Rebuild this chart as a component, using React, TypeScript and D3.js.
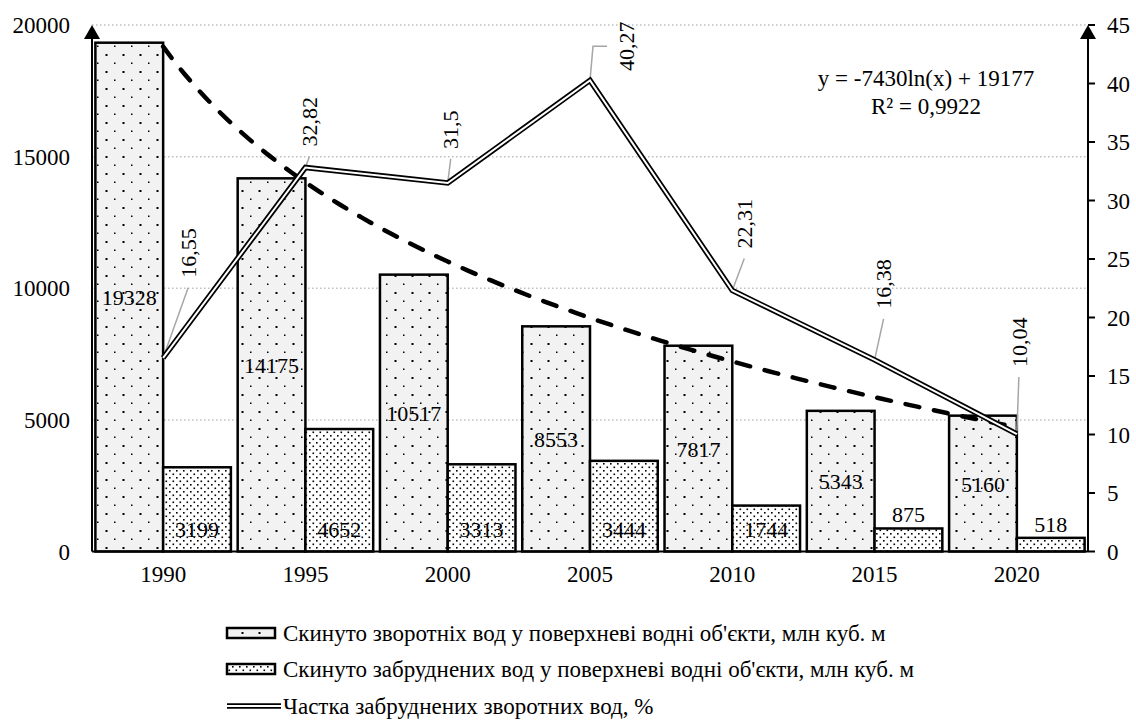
import React, { useRef, useEffect } from 'react';
import * as d3 from 'd3';

const years = ['1990', '1995', '2000', '2005', '2010', '2015', '2020'];
const returnWater = [19328, 14175, 10517, 8553, 7817, 5343, 5160];
const pollutedWater = [3199, 4652, 3313, 3444, 1744, 875, 518];
const pollutedShare = [16.55, 32.82, 31.5, 40.27, 22.31, 16.38, 10.04];
const shareLabels = ['16,55', '32,82', '31,5', '40,27', '22,31', '16,38', '10,04'];
const leftTicks = [0, 5000, 10000, 15000, 20000];
const rightTicks = [0, 5, 10, 15, 20, 25, 30, 35, 40, 45];
const legendNames = [
  'Скинуто зворотніх вод у поверхневі водні об\'єкти, млн куб. м',
  'Скинуто забруднених вод у поверхневі водні об\'єкти, млн куб. м',
  'Частка забруднених зворотних вод, %',
];
// trend line shown in the chart: y = -7430 ln(x) + 19177
const trendA = -7430, trendB = 19177;
const trendText = ['y = -7430ln(x) + 19177', 'R² = 0,9922'];

// where the leader line of each share label ends (relative to the point)
const leaderEnds = [[25, -70], [4, -11], [3, -24], [3, -34], [12, -32], [9, -41], [2, -57]];

const FONT = 'Liberation Serif';

export default function App() {
  const svgRef = useRef(null);

  useEffect(() => {
    document.body.style.margin = '0';
    const width = 1136, height = 722;
    const left = 92, right = 1088, top = 25, bottom = 551.5;
    const svg = d3.select(svgRef.current);
    svg.selectAll('*').remove();
    svg.attr('width', width).attr('height', height).attr('font-family', FONT);

    const defs = svg.append('defs');
    const p1 = defs.append('pattern').attr('id', 'dotsSparse').attr('patternUnits', 'userSpaceOnUse').attr('width', 17).attr('height', 17);
    p1.append('rect').attr('width', 17).attr('height', 17).attr('fill', '#f2f2f2');
    p1.append('rect').attr('x', 3.5).attr('y', 3).attr('width', 2).attr('height', 2).attr('fill', '#000');
    p1.append('rect').attr('x', 12).attr('y', 11.5).attr('width', 1.5).attr('height', 1.5).attr('fill', '#000');
    const p2 = defs.append('pattern').attr('id', 'dotsDense').attr('patternUnits', 'userSpaceOnUse').attr('width', 7).attr('height', 7);
    p2.append('rect').attr('width', 7).attr('height', 7).attr('fill', '#fff');
    p2.append('rect').attr('x', 1).attr('y', 1).attr('width', 1.6).attr('height', 1.6).attr('fill', '#000');
    p2.append('rect').attr('x', 4.5).attr('y', 4.5).attr('width', 1.6).attr('height', 1.6).attr('fill', '#000');

    const x = d3.scaleBand().domain(years).range([left, right]).padding(0);
    const xs = d3.scaleBand().domain(['a', 'b']).range([0, x.bandwidth()]).paddingInner(0).paddingOuter(0.05);
    const yL = d3.scaleLinear().domain([0, 20000]).range([bottom, top]);
    const yR = d3.scaleLinear().domain([0, 45]).range([bottom, top]);
    const cx = (i) => x(years[i]) + x.bandwidth() / 2;

    // gridlines
    svg.append('g').selectAll('line').data(leftTicks.filter((t) => t > 0)).join('line')
      .attr('x1', left).attr('x2', right).attr('y1', (d) => yL(d)).attr('y2', (d) => yL(d))
      .attr('stroke', '#bfbfbf').attr('stroke-width', 1.5).attr('stroke-dasharray', '1.5 2.5');

    // bars
    const g = svg.append('g').attr('stroke', '#000').attr('stroke-width', 2.5);
    g.selectAll('.b1').data(returnWater).join('rect')
      .attr('x', (d, i) => x(years[i]) + xs('a')).attr('width', xs.bandwidth())
      .attr('y', (d) => yL(d)).attr('height', (d) => bottom - yL(d)).attr('fill', 'url(#dotsSparse)');
    g.selectAll('.b2').data(pollutedWater).join('rect')
      .attr('x', (d, i) => x(years[i]) + xs('b')).attr('width', xs.bandwidth())
      .attr('y', (d) => yL(d)).attr('height', (d) => bottom - yL(d)).attr('fill', 'url(#dotsDense)');

    // trend line
    const trendPts = d3.range(1, 7.001, 0.05).map((t) => [left + (t - 0.5) * x.step(), yL(trendA * Math.log(t) + trendB)]);
    svg.append('path').attr('d', d3.line()(trendPts)).attr('fill', 'none').attr('stroke', '#000')
      .attr('stroke-width', 4.5).attr('stroke-dasharray', '14 15').attr('stroke-linecap', 'round');

    // bar labels
    svg.append('g').selectAll('text').data(returnWater).join('text')
      .attr('x', (d, i) => x(years[i]) + xs('a') + xs.bandwidth() / 2)
      .attr('y', (d) => (yL(d) + bottom) / 2 + 8)
      .attr('text-anchor', 'middle').attr('font-size', 22).text((d) => d);
    svg.append('g').selectAll('text').data(pollutedWater).join('text')
      .attr('x', (d, i) => x(years[i]) + xs('b') + xs.bandwidth() / 2)
      .attr('y', (d) => (bottom - yL(d) > 30 ? bottom - 23 : yL(d) - 14) + 8)
      .attr('text-anchor', 'middle').attr('font-size', 22).text((d) => d);

    // share line (double line)
    const linePts = pollutedShare.map((d, i) => [cx(i), yR(d)]);
    const lineGen = d3.line();
    // leaders
    const lg = svg.append('g').attr('stroke', '#a6a6a6').attr('stroke-width', 1.5).attr('fill', 'none');
    pollutedShare.forEach((d, i) => {
      const [px, py] = linePts[i];
      const ex = px + leaderEnds[i][0], ey = py + leaderEnds[i][1];
      if (i === 3) {
        lg.append('path').attr('d', lineGen([[px, py], [ex, ey], [ex + 14, ey]]));
        svg.append('text').attr('transform', `translate(${ex + 33},${ey}) rotate(-90)`)
          .attr('text-anchor', 'middle').attr('dy', '0.35em').attr('font-size', 22).text(shareLabels[i]);
      } else {
        lg.append('path').attr('d', lineGen([[px, py], [ex, ey]]));
        svg.append('text').attr('transform', `translate(${ex},${ey - 10}) rotate(-90)`)
          .attr('text-anchor', 'start').attr('dy', '0.35em').attr('font-size', 22).text(shareLabels[i]);
      }
    });
    svg.append('path').attr('d', lineGen(linePts)).attr('fill', 'none').attr('stroke', '#000').attr('stroke-width', 5.5).attr('stroke-linejoin', 'miter');
    svg.append('path').attr('d', lineGen(linePts)).attr('fill', 'none').attr('stroke', '#fff').attr('stroke-width', 2).attr('stroke-linejoin', 'miter');

    // axes
    const ax = svg.append('g').attr('stroke', '#000').attr('stroke-width', 2);
    ax.append('line').attr('x1', left).attr('x2', right).attr('y1', bottom).attr('y2', bottom);
    ax.append('line').attr('x1', left).attr('x2', left).attr('y1', bottom).attr('y2', top + 4);
    ax.append('line').attr('x1', right).attr('x2', right).attr('y1', bottom).attr('y2', top + 4);
    ax.selectAll('.rt').data(rightTicks).join('line')
      .attr('x1', right).attr('x2', right + 7).attr('y1', (d) => yR(d)).attr('y2', (d) => yR(d));
    [left, right].forEach((ax0) => {
      svg.append('path').attr('d', `M${ax0},${top} L${ax0 - 8},${top + 14} L${ax0 + 8},${top + 14} Z`).attr('fill', '#000');
    });

    svg.append('g').selectAll('text').data(leftTicks).join('text')
      .attr('x', 70).attr('y', (d) => yL(d) + 8).attr('text-anchor', 'end').attr('font-size', 23).text((d) => d);
    svg.append('g').selectAll('text').data(rightTicks).join('text')
      .attr('x', 1107).attr('y', (d) => yR(d) + 8).attr('text-anchor', 'start').attr('font-size', 23).text((d) => d);
    svg.append('g').selectAll('text').data(years).join('text')
      .attr('x', (d) => x(d) + x.bandwidth() / 2).attr('y', 582).attr('text-anchor', 'middle').attr('font-size', 23).text((d) => d);

    // trend equation
    svg.append('g').selectAll('text').data(trendText).join('text')
      .attr('x', 926).attr('y', (d, i) => 86 + i * 28).attr('text-anchor', 'middle').attr('font-size', 23).text((d) => d);

    // legend
    const legY = [633, 669, 706];
    legendNames.forEach((name, i) => {
      if (i < 2) {
        svg.append('rect').attr('x', 227).attr('y', legY[i] - 5).attr('width', 48).attr('height', 10)
          .attr('fill', i === 0 ? 'url(#dotsSparse)' : 'url(#dotsDense)').attr('stroke', '#000').attr('stroke-width', 2.5);
      } else {
        const p = lineGen([[227, legY[i]], [281, legY[i]]]);
        svg.append('path').attr('d', p).attr('stroke', '#000').attr('stroke-width', 5.5);
        svg.append('path').attr('d', p).attr('stroke', '#fff').attr('stroke-width', 2);
      }
      svg.append('text').attr('x', 283).attr('y', legY[i] + 8).attr('font-size', 23).text(name);
    });
    svg.selectAll('text').attr('font-family', FONT);
  }, []);

  return (<div><svg ref={svgRef} style={{ display: 'block' }} /></div>);
}
